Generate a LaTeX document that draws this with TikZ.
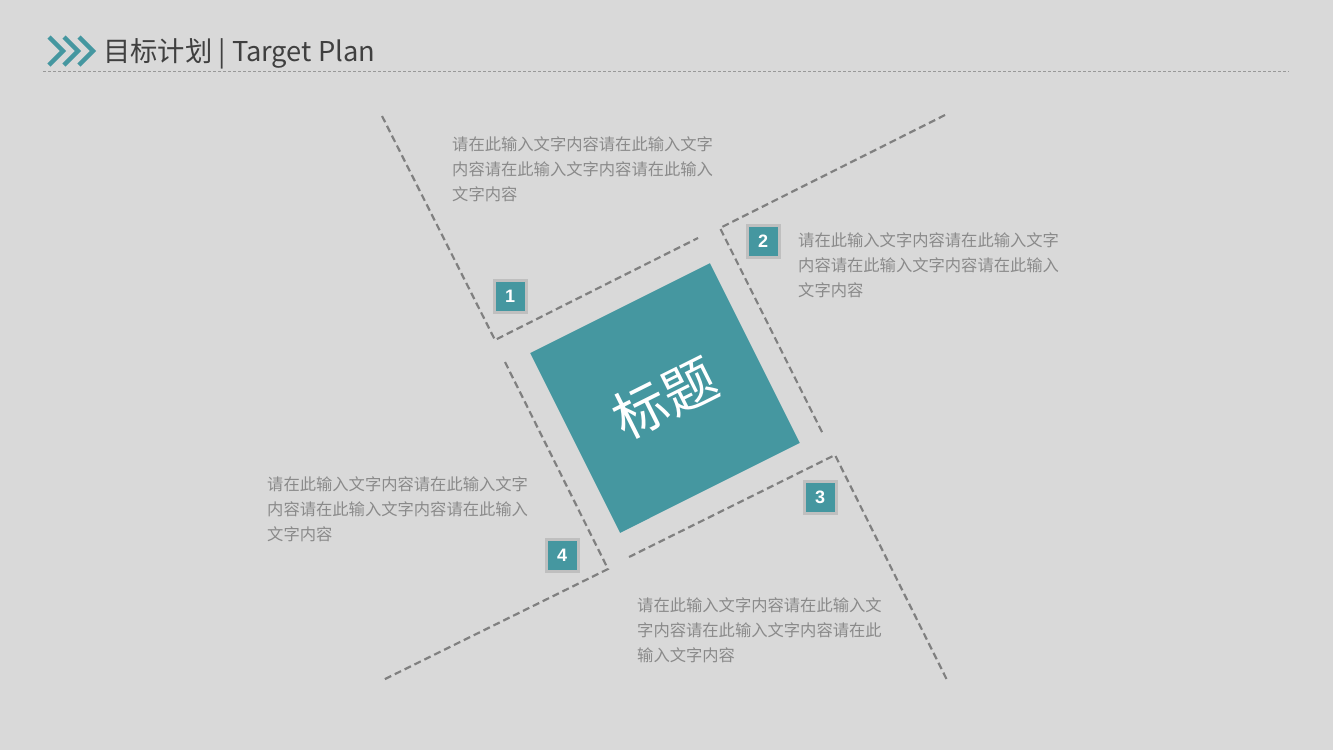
\documentclass[tikz,border=0pt]{standalone}
\usepackage{fontspec}
\setmainfont{Liberation Sans}
\newfontfamily\cjk{Noto Sans CJK SC}

\definecolor{bgcol}{HTML}{D9D9D9}
\definecolor{tealcol}{HTML}{4597A0}
\definecolor{dashcol}{HTML}{808080}
\definecolor{textcol}{HTML}{8A8A8A}
\definecolor{headcol}{HTML}{404040}

\tikzset{
  badge/.style={fill=tealcol, draw=black!25, line width=3pt, minimum size=32pt,
    inner sep=0pt, text=white, font=\fontsize{18}{18}\selectfont\bfseries},
  body/.style={anchor=north west, inner sep=0pt, align=left, text=textcol,
    font=\cjk\fontsize{16.3}{25}\selectfont},
  frame/.style={dashcol, line width=2.2pt, dash pattern=on 7pt off 4pt}
}

\begin{document}
\begin{tikzpicture}[x=1pt,y=-1pt]

\fill[bgcol] (0,0) rectangle (1333,750);
\useasboundingbox (0,0) rectangle (1333,750);

% header
\draw[tealcol, line width=4.5pt] (49,37) -- (63,51) -- (49,65);
\draw[tealcol, line width=4.5pt] (64,37) -- (78,51) -- (64,65);
\draw[tealcol, line width=4.5pt] (79,37) -- (93,51) -- (79,65);
\node[anchor=base west, inner sep=0pt, text=headcol, font=\cjk\fontsize{27.3}{27.3}\selectfont]
  (head) at (103,61) {目标计划 | Target Plan};
\draw[black!40, line width=0.8pt, dash pattern=on 3pt off 2pt] (43,71) -- (1289,71);

% corners of the dashed frames
\coordinate (A1) at (382,116);
\coordinate (A2) at (495,340);
\coordinate (A3) at (698,238);
\coordinate (B1) at (945,115);
\coordinate (B2) at (720,228);
\coordinate (B3) at (823,434);
\coordinate (C1) at (629,557);
\coordinate (C2) at (835,455);
\coordinate (C3) at (947,680);
\coordinate (D1) at (505,362);
\coordinate (D2) at (608,569);
\coordinate (D3) at (383,680);

\draw[frame] (A1) -- (A2) -- (A3);
\draw[frame] (B1) -- (B2) -- (B3);
\draw[frame] (C1) -- (C2) -- (C3);
\draw[frame] (D1) -- (D2) -- (D3);

% centre square
\node[fill=tealcol, minimum size=201pt, inner sep=0pt, rotate=26.57, text=white,
  font=\cjk\fontsize{54}{54}\selectfont] (title) at (665,398) {标题};

% numbers
\node[badge] (n1) at (510,296) {1};
\node[badge] (n2) at (763,241) {2};
\node[badge] (n3) at (820,497) {3};
\node[badge] (n4) at (562,555) {4};

% texts
\node[body] (t1) at (452,136) {请在此输入文字内容请在此输入文字\\内容请在此输入文字内容请在此输入\\文字内容};
\node[body] (t2) at (798,232) {请在此输入文字内容请在此输入文字\\内容请在此输入文字内容请在此输入\\文字内容};
\node[body] (t3) at (637,597) {请在此输入文字内容请在此输入文\\字内容请在此输入文字内容请在此\\输入文字内容};
\node[body] (t4) at (267,476) {请在此输入文字内容请在此输入文字\\内容请在此输入文字内容请在此输入\\文字内容};

\end{tikzpicture}
\end{document}
